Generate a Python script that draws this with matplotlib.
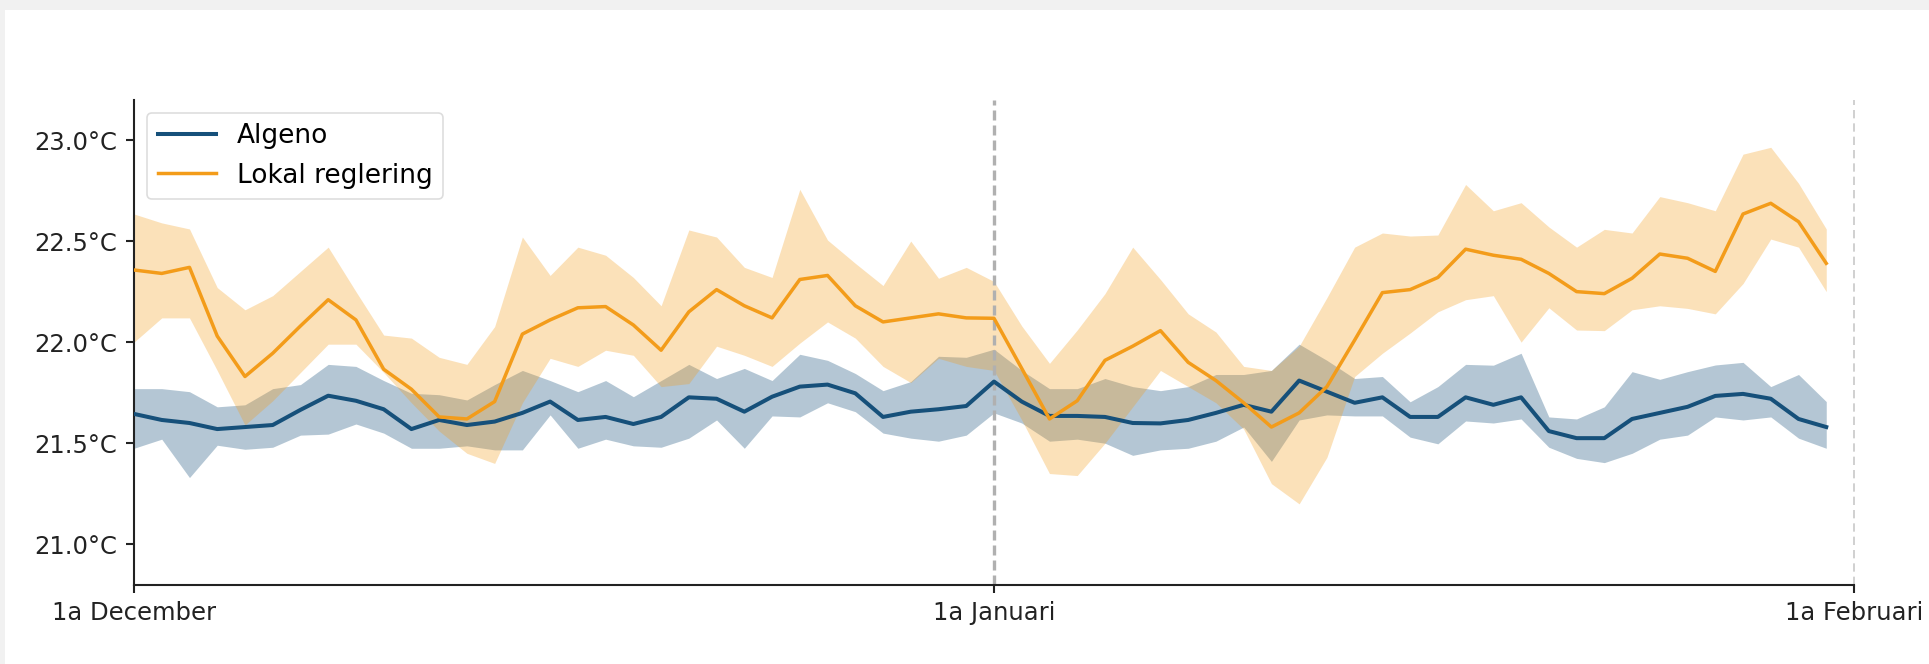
import matplotlib
matplotlib.use("Agg")
import matplotlib.pyplot as plt
import numpy as np

# ---- data (daily values, 1 Dec .. 31 Jan) ----
algeno_mean = [21.645, 21.615, 21.60, 21.57, 21.58, 21.59, 21.665, 21.735, 21.71, 21.668,
               21.57, 21.615, 21.59, 21.607, 21.65, 21.706, 21.615, 21.63, 21.595, 21.63,
               21.727, 21.72, 21.656, 21.73, 21.78, 21.79, 21.747, 21.63, 21.656, 21.668,
               21.684, 21.805, 21.706, 21.635, 21.635, 21.63, 21.60, 21.598, 21.615, 21.65,
               21.69, 21.656, 21.81, 21.755, 21.70, 21.727, 21.63, 21.63, 21.727, 21.69,
               21.727, 21.56, 21.525, 21.525, 21.62, 21.65, 21.68, 21.734, 21.744, 21.72,
               21.62, 21.58]
algeno_upper = [21.77, 21.77, 21.755, 21.68, 21.69, 21.77, 21.79, 21.89, 21.88, 21.81,
                21.747, 21.74, 21.714, 21.79, 21.86, 21.81, 21.755, 21.81, 21.73, 21.81,
                21.89, 21.82, 21.87, 21.81, 21.94, 21.91, 21.845, 21.76, 21.805, 21.93,
                21.925, 21.965, 21.86, 21.77, 21.77, 21.82, 21.78, 21.76, 21.78, 21.84,
                21.84, 21.86, 21.99, 21.91, 21.82, 21.83, 21.705, 21.78, 21.89, 21.886,
                21.945, 21.63, 21.62, 21.68, 21.854, 21.816, 21.854, 21.887, 21.90, 21.78,
                21.84, 21.706]
algeno_lower = [21.475, 21.52, 21.33, 21.49, 21.47, 21.48, 21.54, 21.545, 21.595, 21.55,
                21.475, 21.475, 21.487, 21.467, 21.467, 21.64, 21.475, 21.52, 21.487, 21.48,
                21.525, 21.615, 21.475, 21.635, 21.63, 21.70, 21.656, 21.55, 21.525, 21.51,
                21.54, 21.65, 21.60, 21.51, 21.52, 21.50, 21.44, 21.467, 21.475, 21.51,
                21.58, 21.41, 21.615, 21.64, 21.635, 21.635, 21.53, 21.497, 21.61, 21.60,
                21.62, 21.48, 21.425, 21.404, 21.45, 21.52, 21.54, 21.63, 21.615, 21.63,
                21.525, 21.475]

lokal_mean = [22.357, 22.34, 22.37, 22.03, 21.83, 21.945, 22.08, 22.21, 22.11, 21.866,
              21.767, 21.63, 21.62, 21.706, 22.04, 22.11, 22.17, 22.176, 22.085, 21.96,
              22.15, 22.26, 22.18, 22.12, 22.31, 22.33, 22.18, 22.10, 22.12, 22.14,
              22.12, 22.118, 21.87, 21.62, 21.71, 21.91, 21.98, 22.057, 21.90, 21.81,
              21.70, 21.58, 21.65, 21.78, 22.01, 22.245, 22.26, 22.32, 22.46, 22.43,
              22.41, 22.34, 22.25, 22.24, 22.316, 22.436, 22.415, 22.35, 22.634, 22.687,
              22.596, 22.39]
lokal_upper = [22.634, 22.59, 22.56, 22.27, 22.16, 22.23, 22.35, 22.47, 22.25, 22.035,
               22.02, 21.925, 21.89, 22.077, 22.52, 22.33, 22.47, 22.43, 22.32, 22.18,
               22.555, 22.52, 22.37, 22.32, 22.756, 22.505, 22.39, 22.28, 22.50, 22.316,
               22.37, 22.30, 22.08, 21.895, 22.06, 22.24, 22.47, 22.31, 22.14, 22.05,
               21.88, 21.86, 21.98, 22.22, 22.47, 22.54, 22.525, 22.53, 22.78, 22.65,
               22.69, 22.57, 22.47, 22.558, 22.54, 22.72, 22.69, 22.65, 22.93, 22.964,
               22.786, 22.56]
lokal_lower = [22.0, 22.12, 22.12, 21.86, 21.59, 21.71, 21.85, 21.99, 21.99, 21.85,
               21.70, 21.56, 21.45, 21.40, 21.70, 21.92, 21.88, 21.96, 21.935, 21.78,
               21.795, 21.98, 21.935, 21.88, 21.995, 22.10, 22.02, 21.88, 21.80, 21.92,
               21.88, 21.86, 21.615, 21.35, 21.34, 21.50, 21.68, 21.86, 21.78, 21.70,
               21.57, 21.30, 21.20, 21.43, 21.83, 21.945, 22.045, 22.15, 22.21, 22.23,
               22.0, 22.17, 22.06, 22.057, 22.16, 22.18, 22.167, 22.14, 22.29, 22.51,
               22.47, 22.25]

tick_days = [0, 31, 62]
tick_labels = ["1a December", "1a Januari", "1a Februari"]
y_ticks = [21.0, 21.5, 22.0, 22.5, 23.0]
series_names = ["Algeno", "Lokal reglering"]

# ---- plot ----
BLUE = "#16507a"
ORANGE = "#f39c1a"

fig = plt.figure(figsize=(19.29, 6.64), dpi=100)
# light screenshot frame (top and left)
fig.patches.append(plt.Rectangle((0, 1 - 10 / 664), 1, 10 / 664, transform=fig.transFigure,
                                 facecolor="#f1f1f1", edgecolor="none", zorder=0))
fig.patches.append(plt.Rectangle((0, 0), 5 / 1929, 1, transform=fig.transFigure,
                                 facecolor="#f1f1f1", edgecolor="none", zorder=0))

ax = fig.add_axes([134 / 1929, 79.3 / 664, (1854 - 134) / 1929, (584.7 - 99.6) / 664])

days = np.arange(len(algeno_mean))

ax.fill_between(days, algeno_lower, algeno_upper, color=BLUE, alpha=0.32, linewidth=0)
ax.plot(days, algeno_mean, color=BLUE, lw=2.9, label=series_names[0], zorder=3)
ax.fill_between(days, lokal_lower, lokal_upper, color=ORANGE, alpha=0.3, linewidth=0)
ax.plot(days, lokal_mean, color=ORANGE, lw=2.5, label=series_names[1], zorder=3)

ax.axvline(31, color="#b0b0b0", lw=2.4, linestyle=(0, (3, 1.5)), zorder=1)
ax.axvline(62, color="#c8c8c8", lw=1.2, linestyle=(0, (5, 3)), zorder=1, clip_on=False)

ax.set_xlim(0, 62)
ax.set_ylim(20.8, 23.2)
ax.set_xticks(tick_days)
ax.set_xticklabels(tick_labels)
ax.set_yticks(y_ticks)
ax.set_yticklabels([f"{v:.1f}°C" for v in y_ticks])

for s in ["top", "right"]:
    ax.spines[s].set_visible(False)
for s in ["left", "bottom"]:
    ax.spines[s].set_linewidth(1.5)
    ax.spines[s].set_color("#222222")
ax.tick_params(axis="both", length=6, width=1.5, pad=6, labelsize=17.5, colors="#222222")

leg = ax.legend(loc="upper left", fontsize=19, frameon=True, fancybox=True,
                handlelength=2.2, handletextpad=0.8, borderpad=0.4, labelspacing=0.5)
leg.get_frame().set_edgecolor("#d5d5d5")
leg.get_frame().set_linewidth(1.2)

fig.savefig("out.png", dpi=100)
